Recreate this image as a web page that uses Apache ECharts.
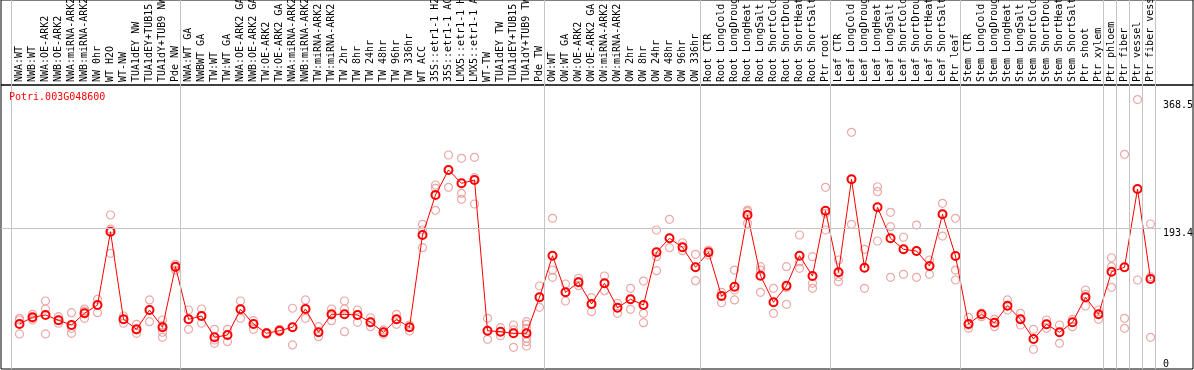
<!DOCTYPE html>
<html><head><meta charset="utf-8">
<script src="https://cdn.jsdelivr.net/npm/echarts@6/dist/echarts.min.js"></script>
<style>html,body{margin:0;padding:0;background:#fff}#c{width:1194px;height:370px}</style>
</head><body><div id="c"></div>
<script>
const chartTitle = 'Potri.003G048600';
const categories = [
 'NWA:WT','NWB:WT','NWA:OE-ARK2','NWB:OE-ARK2','NWA:miRNA-ARK2','NWB:miRNA-ARK2','NW 0hr','WT H2O','WT-NW','TUA1dEY NW','TUA1dEY+TUB15 NW','TUA1dY+TUB9 NW','Pde NW',
 'NWA:WT GA','NWBWT GA','TW:WT','TW:WT GA','NWA:OE-ARK2 GA','NWB:OE-ARK2 GA','TW:OE-ARK2','TW:OE-ARK2 GA','NWA:miRNA-ARK2 GA','NWB:miRNA-ARK2 GA','TW:miRNA-ARK2','TW:miRNA-ARK2 GA','TW 2hr','TW 8hr','TW 24hr','TW 48hr','TW 96hr','TW 336hr','WT ACC','35S::etr1-1 H2O','35S::etr1-1 ACC','LMX5::etr1-1 H2O','LMX5::etr1-1 ACC','WT-TW','TUA1dEY TW','TUA1dEY+TUB15 TW','TUA1dY+TUB9 TW','Pde TW',
 'OW:WT','OW:WT GA','OW:OE-ARK2','OW:OE-ARK2 GA','OW:miRNA-ARK2','OW:miRNA-ARK2 GA','OW 2hr','OW 8hr','OW 24hr','OW 48hr','OW 96hr','OW 336hr',
 'Root CTR','Root LongCold','Root LongDrought','Root LongHeat','Root LongSalt','Root ShortCold','Root ShortDrought','Root ShortHeat','Root ShortSalt','Ptr root',
 'Leaf CTR','Leaf LongCold','Leaf LongDrought','Leaf LongHeat','Leaf LongSalt','Leaf ShortCold','Leaf ShortDrought','Leaf ShortHeat','Leaf ShortSalt','Ptr leaf',
 'Stem CTR','Stem LongCold','Stem LongDrought','Stem LongHeat','Stem LongSalt','Stem ShortCold','Stem ShortDrought','Stem ShortHeat','Stem ShortSalt','Ptr shoot','Ptr xylem',
 'Ptr phloem','Ptr fiber','Ptr vessel','Ptr fiber vessel'
];
const means = [
 61.8, 71.0, 74.2, 66.9, 60.4, 76.5, 87.9, 188.5, 68.2, 54.5, 81.0, 57.3, 140.5,
 68.2, 72.8, 43.5, 46.7, 82.0, 61.8, 49.0, 52.6, 57.3, 82.4, 50.4, 75.1, 75.1, 74.2, 64.1, 50.4, 68.2, 57.3, 184.0, 238.9, 273.3, 255.0, 259.5, 52.6, 51.2, 49.0, 49.0, 98.5,
 155.6, 105.3, 119.1, 89.3, 117.7, 84.2, 95.7, 87.9, 160.3, 179.5, 167.1, 139.7,
 160.3, 100.2, 113.0, 211.5, 128.1, 91.6, 114.4, 155.6, 127.7, 217.4,
 132.8, 260.5, 139.1, 222.1, 179.5, 164.4, 162.0, 141.4, 212.4, 155.2,
 61.8, 75.1, 63.6, 86.9, 68.2, 41.2, 61.4, 50.4, 64.1, 98.5, 75.1, 133.6, 139.7, 247.2, 123.6
];
const replicates = [
 [69.6,67.3,48.1],[75.1,69.6,67.3],[93.4,82.4,48.1],[71.8,66.9,62.8],[77.3,55.9,49.0],[82.4,79.6,69.6],[95.7,87.9,77.3],[211.5,192.2,158.9],[72.8,68.2,62.8],[61.4,53.6,49.0],[94.8,81.0,65.0],[67.3,59.5,50.4,43.5],[143.8,139.1,135.9],
 [81.0,68.2,54.5],[82.4,72.8,62.8],[54.5,39.8,35.3],[54.5,46.7,37.5],[93.4,82.4,69.6],[66.3,61.8,54.5],[50.4,49.0,47.7],[54.5,52.6,51.2],[83.4,57.3,33.0],[94.8,82.4,69.6],[58.1,50.4,44.4],[82.4,74.2,66.3],[93.4,82.4,51.2],[81.0,74.2,64.1],[70.4,64.1,58.1],[53.6,50.4,47.7],[75.1,68.2,61.4],[60.4,57.3,52.2],[198.7,190.9,166.6],[252.7,248.1,217.9],[293.9,273.3,249.5],[289.3,241.3,233.0],[290.7,262.7,226.6],[69.6,52.6,40.8],[56.7,51.2,45.7],[60.4,53.6,49.0,29.8],[65.0,61.4,55.9,49.0,42.2,37.5,31.6],[114.0,98.5,84.7],
 [206.9,135.9,125.9],[116.7,105.3,93.4],[124.6,119.9,114.4],[97.9,89.3,78.7],[127.7,117.7,107.5],[90.2,84.2,76.5],[110.8,95.7,82.0],[120.8,76.5,63.6],[190.9,154.2,135.0],[205.6,179.5,166.6],[173.4,167.1,162.5],[157.5,139.7,121.3],
 [163.4,160.3,156.5],[105.3,100.2,91.0],[135.9,108.5,94.8],[218.3,216.0,200.1],[140.5,135.9,105.3],[110.8,91.6,76.5],[140.5,111.6,88.8],[184.0,147.3,138.3],[154.2,117.7,110.8],[249.5,213.8,190.9],
 [149.7,126.7,119.9],[325.0,260.5,198.7],[164.4,139.1,110.8],[250.3,243.5,175.8],[215.2,195.4,125.9],[180.9,164.4,130.0],[197.7,162.0,125.9],[149.7,141.4,130.0],[227.5,212.4,182.6],[206.9,135.9,122.2],
 [71.0,60.4,55.9],[76.5,75.1,71.8],[68.2,63.6,58.1],[94.8,86.9,81.0],[76.5,68.2,60.4],[54.5,41.2,27.1],[67.3,61.4,55.9],[60.4,50.4,35.3],[68.2,64.1,58.1],[108.5,102.6,86.5],[81.0,75.1,68.2],
 [152.8,140.5,112.2],[294.8,69.6,55.9],[370.0,122.2],[199.1,126.7,43.5]
];
const groupStarts = [0, 13, 41, 53, 63, 73, 84, 85, 86, 87, 88];
const yTickValues = [0, 193.4, 368.5];
const yTickLabels = ['0', '193.4', '368.5'];
const gridLineValue = 193.4;
const yMax = 390;

const FONT = 'DejaVu Sans Mono';
const scatterData = [];
replicates.forEach((arr, i) => arr.forEach(v => scatterData.push([i, v])));
const labelFor = v => { const k = yTickValues.indexOf(v); return k >= 0 ? yTickLabels[k] : ''; };

const chart = echarts.init(document.getElementById('c'), null, {renderer: 'canvas'});
const G = {outerBoundsMode: 'none', containLabel: false};
chart.setOption({
  animation: false,
  backgroundColor: '#fff',
  title: {text: chartTitle, left: 9, top: 92, padding: 0,
    textStyle: {color: '#ff0000', fontSize: 10, fontWeight: 'normal', fontFamily: FONT}},
  grid: [
    Object.assign({left: 13, width: 1144, top: 85, height: 284}, G),
    Object.assign({left: 11.5, width: 1144, top: 0, height: 369}, G),
    Object.assign({left: 1, right: 33, top: 85, height: 284}, G),
    Object.assign({left: 1, right: 1, top: 0, height: 85, show: true, borderColor: '#000', borderWidth: 1, backgroundColor: 'transparent'}, G),
    Object.assign({left: 1, right: 1, top: 85, height: 284, show: true, borderColor: '#000', borderWidth: 1, backgroundColor: 'transparent'}, G)
  ],
  xAxis: [
    {gridIndex: 0, type: 'category', data: categories, position: 'top', boundaryGap: true,
     axisLine: {show: false}, axisTick: {show: false}, splitLine: {show: false},
     axisLabel: {interval: 0, rotate: 90, margin: 3, fontSize: 10, fontFamily: FONT, color: '#000', hideOverlap: false}},
    {gridIndex: 1, type: 'value', min: 0, max: categories.length, show: false},
    {gridIndex: 2, type: 'value', min: 0, max: 1, show: false}
  ],
  yAxis: [
    {gridIndex: 0, type: 'value', min: 0, max: yMax, position: 'right',
     axisLine: {show: false}, axisTick: {show: false}, splitLine: {show: false},
     axisLabel: {customValues: yTickValues.slice(1), verticalAlign: 'top', margin: 6, fontSize: 10, fontFamily: FONT, color: '#000', formatter: labelFor}},
    {gridIndex: 0, type: 'value', min: 0, max: yMax, position: 'right',
     axisLine: {show: false}, axisTick: {show: false}, splitLine: {show: false},
     axisLabel: {customValues: yTickValues.slice(0, 1), verticalAlign: 'bottom', margin: 6, fontSize: 10, fontFamily: FONT, color: '#000', formatter: labelFor}},
    {gridIndex: 1, type: 'value', min: 0, max: 1, show: false},
    {gridIndex: 2, type: 'value', min: 0, max: yMax, show: false}
  ],
  series: [
    {type: 'line', xAxisIndex: 1, yAxisIndex: 2, data: [], silent: true,
     markLine: {silent: true, symbol: 'none', animation: false, label: {show: false},
       lineStyle: {color: '#c4c4c4', width: 1, type: 'solid'},
       data: groupStarts.map(v => ({xAxis: v}))}},
    {type: 'line', xAxisIndex: 2, yAxisIndex: 3, data: [], silent: true,
     markLine: {silent: true, symbol: 'none', animation: false, label: {show: false},
       lineStyle: {color: '#c4c4c4', width: 1, type: 'solid'},
       data: [{yAxis: gridLineValue}]}},
    {type: 'scatter', xAxisIndex: 0, yAxisIndex: 0, data: scatterData, symbol: 'circle', symbolSize: 8, z: 3,
     itemStyle: {color: 'rgba(0,0,0,0)', borderColor: '#e99393', borderWidth: 1.2}},
    {type: 'line', xAxisIndex: 0, yAxisIndex: 0, data: means, symbol: 'circle', symbolSize: 8, z: 4,
     itemStyle: {color: 'rgba(0,0,0,0)', borderColor: '#ff0000', borderWidth: 2},
     lineStyle: {color: '#ff0000', width: 1}}
  ]
});
</script></body></html>
